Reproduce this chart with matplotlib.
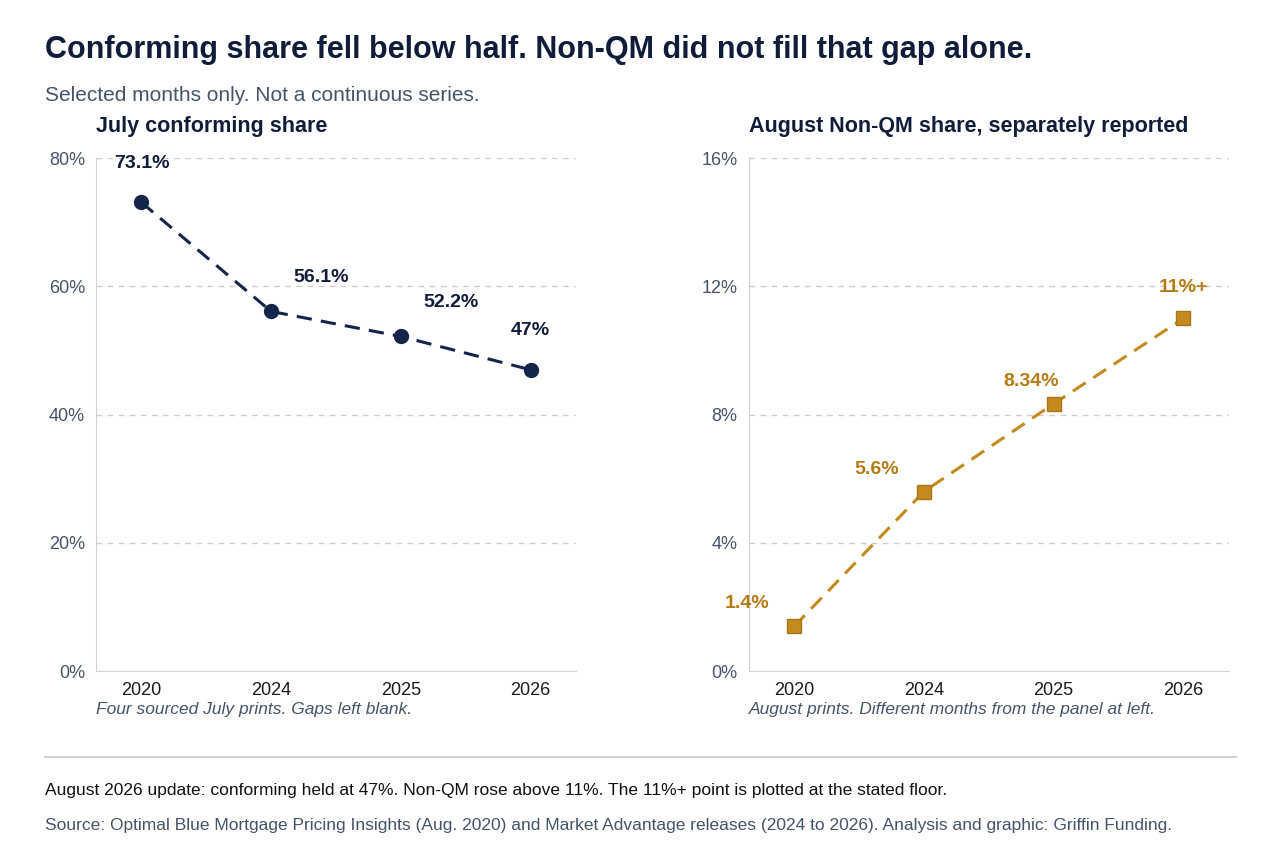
import matplotlib
matplotlib.use("Agg")
import matplotlib.pyplot as plt
from matplotlib.lines import Line2D

years = ["2020", "2024", "2025", "2026"]
conforming = [73.1, 56.1, 52.2, 47.0]
conf_labels = ["73.1%", "56.1%", "52.2%", "47%"]
nonqm = [1.4, 5.6, 8.34, 11.0]
nonqm_labels = ["1.4%", "5.6%", "8.34%", "11%+"]
left_ticks = [0, 20, 40, 60, 80]
right_ticks = [0, 4, 8, 12, 16]

plt.rcParams['font.family'] = ['Liberation Sans', 'DejaVu Sans']
NAVY = "#0f1d3a"
LINE = "#13254a"
GOLD = "#c48a1e"
GOLDT = "#b57b10"
GRAY = "#4a5568"
SLATE = "#44546a"

fig = plt.figure(figsize=(12.8, 8.55), dpi=100)
ax1 = fig.add_axes([0.075, 0.215, 0.375, 0.6])
ax2 = fig.add_axes([0.585, 0.215, 0.375, 0.6])

def style(ax, ticks, ymax):
    x = list(range(len(years)))
    ax.set_xlim(-0.35, 3.35)
    ax.set_ylim(0, ymax)
    ax.set_yticks(ticks)
    ax.set_yticklabels([f"{t}%" for t in ticks], color=SLATE, fontsize=13)
    ax.set_xticks(x)
    ax.set_xticklabels(years, fontsize=13, color="#1a1a1a")
    ax.tick_params(length=0, pad=8)
    for t in ticks[1:]:
        ax.axhline(t, color="#cccccc", lw=1, ls=(0, (4, 4)), zorder=0)
    for s in ["top", "right"]:
        ax.spines[s].set_visible(False)
    for s in ["left", "bottom"]:
        ax.spines[s].set_color("#cfd3d8")
    return x

x = style(ax1, left_ticks, 80)
ax1.plot(x, conforming, ls=(0, (5, 3)), color=LINE, lw=2.2, marker="o", ms=10,
         mfc=LINE, mec=LINE)
offs1 = [(0, 22), (36, 18), (36, 18), (0, 22)]
for xi, v, l, o in zip(x, conforming, conf_labels, offs1):
    ax1.annotate(l, (xi, v), xytext=o, textcoords="offset points", ha="center",
                 va="bottom", fontsize=14, fontweight="bold", color=NAVY)

x = style(ax2, right_ticks, 16)
ax2.plot(x, nonqm, ls=(0, (5, 3)), color=GOLD, lw=2.2, marker="s", ms=10,
         mfc=GOLD, mec="#a8761a")
offs2 = [(-34, 10), (-34, 10), (-16, 10), (0, 16)]
for xi, v, l, o in zip(x, nonqm, nonqm_labels, offs2):
    ax2.annotate(l, (xi, v), xytext=o, textcoords="offset points", ha="center",
                 va="bottom", fontsize=14, fontweight="bold", color=GOLDT)

fig.text(0.035, 0.941, "Conforming share fell below half. Non-QM did not fill that gap alone.",
         fontsize=22, fontweight="bold", color=NAVY, va="center")
fig.text(0.035, 0.888, "Selected months only. Not a continuous series.",
         fontsize=15, color=SLATE, va="center")
fig.text(0.075, 0.852, "July conforming share", fontsize=15.5, fontweight="bold",
         color=NAVY, va="center")
fig.text(0.585, 0.852, "August Non-QM share, separately reported", fontsize=15.5,
         fontweight="bold", color=NAVY, va="center")
fig.text(0.075, 0.170, "Four sourced July prints. Gaps left blank.", fontsize=12.5,
         style="italic", color=SLATE, va="center")
fig.text(0.585, 0.170, "August prints. Different months from the panel at left.",
         fontsize=12.5, style="italic", color=SLATE, va="center")
fig.add_artist(Line2D([0.035, 0.966], [0.115, 0.115], color="#c8c8c8", lw=1.2))
fig.text(0.035, 0.076, "August 2026 update: conforming held at 47%. Non-QM rose above 11%. "
         "The 11%+ point is plotted at the stated floor.", fontsize=12.5, color="#111111",
         va="center")
fig.text(0.035, 0.034, "Source: Optimal Blue Mortgage Pricing Insights (Aug. 2020) and Market "
         "Advantage releases (2024 to 2026). Analysis and graphic: Griffin Funding.",
         fontsize=12.5, color=SLATE, va="center")

fig.savefig("out.png", dpi=100)
